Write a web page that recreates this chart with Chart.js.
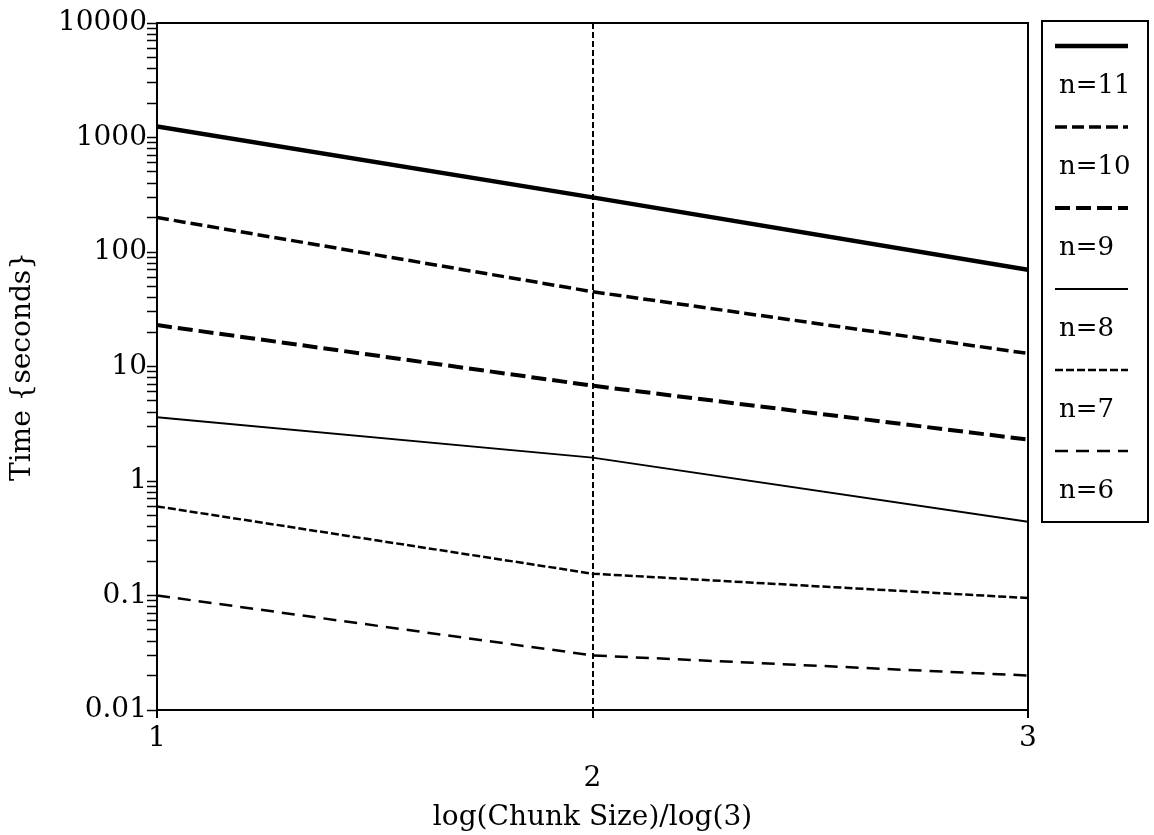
<!DOCTYPE html>
<html>
<head>
<meta charset="utf-8">
<title>Time vs chunk size</title>
<script src="https://cdn.jsdelivr.net/npm/chart.js@4/dist/chart.umd.min.js"></script>
<style>
    html, body { margin: 0; padding: 0; background: #fff; }
    canvas { display: block; }
</style>
</head>
<body>
<canvas id="chart" width="1154" height="835"></canvas>
<script>
// x positions: log(Chunk Size)/log(3)
const chunkLog = [1, 2, 3];

// Time (seconds) per problem size
const n11 = [1250, 300, 70];
const n10 = [200, 45, 13];
const n9 = [23, 6.8, 2.3];
const n8 = [3.6, 1.6, 0.44];
const n7 = [0.6, 0.155, 0.095];
const n6 = [0.1, 0.03, 0.02];

const seriesNames = ['n=11', 'n=10', 'n=9', 'n=8', 'n=7', 'n=6'];

// y axis decades and their labels
const yMajor = [0.01, 0.1, 1, 10, 100, 1000, 10000];
const yTickLabels = ['0.01', '0.1', '1', '10', '100', '1000', '10000'];

const FONT = 'DejaVu Serif';

const toPoints = ys => chunkLog.map((x, i) => ({ x: x, y: ys[i] }));

const styles = [
    { borderWidth: 4.5, borderDash: [] },
    { borderWidth: 3.5, borderDash: [12, 5] },
    { borderWidth: 4, borderDash: [15, 6] },
    { borderWidth: 2, borderDash: [] },
    { borderWidth: 2.5, borderDash: [8, 3] },
    { borderWidth: 2.5, borderDash: [13, 8] }
];

const datasets = [n11, n10, n9, n8, n7, n6].map((ys, i) => ({
    label: seriesNames[i],
    data: toPoints(ys),
    borderColor: '#000',
    borderWidth: styles[i].borderWidth,
    borderDash: styles[i].borderDash,
    pointRadius: 0,
    fill: false,
    tension: 0
}));

// top and right edges of the frame
const framePlugin = {
    id: 'frame',
    afterDatasetsDraw(chart) {
        const { ctx, chartArea: a } = chart;
        ctx.save();
        ctx.strokeStyle = '#000';
        ctx.lineWidth = 2;
        ctx.beginPath();
        ctx.moveTo(a.left, a.top);
        ctx.lineTo(a.right, a.top);
        ctx.lineTo(a.right, a.bottom);
        ctx.stroke();
        ctx.restore();
    }
};

// legend box to the right: line sample above each label
const legendPlugin = {
    id: 'sideLegend',
    afterDraw(chart) {
        const { ctx, chartArea: a } = chart;
        const left = a.right + 14;
        const top = a.top - 2;
        const width = 106;
        const step = 81;
        ctx.save();
        ctx.strokeStyle = '#000';
        ctx.lineWidth = 2;
        ctx.strokeRect(left, top, width, 501);
        ctx.fillStyle = '#000';
        ctx.font = '26px "' + FONT + '"';
        ctx.textBaseline = 'middle';
        ctx.textAlign = 'left';
        chart.data.datasets.forEach((ds, i) => {
            const y = top + 25 + i * step;
            ctx.save();
            ctx.lineWidth = ds.borderWidth;
            ctx.setLineDash(ds.borderDash);
            ctx.beginPath();
            ctx.moveTo(left + 13, y);
            ctx.lineTo(left + 86, y);
            ctx.stroke();
            ctx.restore();
            ctx.fillText(ds.label, left + 17, y + 40);
        });
        ctx.restore();
    }
};

new Chart(document.getElementById('chart'), {
    type: 'line',
    data: { datasets: datasets },
    options: {
        responsive: false,
        animation: false,
        devicePixelRatio: 1,
        layout: { padding: { top: 23, right: 126, left: 0, bottom: 0 } },
        plugins: { legend: { display: false }, tooltip: { enabled: false } },
        scales: {
            x: {
                type: 'linear',
                min: 1,
                max: 3,
                afterFit: s => { s.height = 125; },
                ticks: {
                    stepSize: 1,
                    padding: 0,
                    color: '#000',
                    font: { family: FONT, size: 28, lineHeight: 1.45 },
                    callback: v => (v === 2 ? ['', '2'] : String(v))
                },
                grid: {
                    color: c => (c.tick && c.tick.value === 2 ? '#000' : 'rgba(0,0,0,0)'),
                    lineWidth: 2,
                    tickColor: '#000',
                    tickWidth: 2,
                    tickLength: 8
                },
                border: { display: true, color: '#000', width: 2, dash: [6, 3] },
                title: {
                    display: true,
                    text: 'log(Chunk Size)/log(3)',
                    color: '#000',
                    font: { family: FONT, size: 28 },
                    padding: { top: 0, bottom: 0 }
                }
            },
            y: {
                type: 'logarithmic',
                min: 0.01,
                max: 10000,
                afterFit: s => { s.width = 157; },
                afterBuildTicks: s => {
                    const ticks = [];
                    yMajor.forEach((m, i) => {
                        ticks.push({ value: m, major: true });
                        if (i < yMajor.length - 1) {
                            for (let k = 2; k <= 9; k++) ticks.push({ value: m * k });
                        }
                    });
                    s.ticks = ticks;
                },
                ticks: {
                    autoSkip: false,
                    padding: 0,
                    color: '#000',
                    font: { family: FONT, size: 28 },
                    callback: v => {
                        const i = yMajor.findIndex(m => Math.abs(m - v) / m < 1e-6);
                        return i >= 0 ? yTickLabels[i] : '';
                    }
                },
                grid: {
                    drawOnChartArea: false,
                    color: '#000',
                    tickColor: '#000',
                    tickWidth: 1.5,
                    tickLength: 10
                },
                border: { display: true, color: '#000', width: 2 },
                title: {
                    display: true,
                    text: 'Time {seconds}',
                    color: '#000',
                    font: { family: FONT, size: 28 },
                    padding: { top: 6, bottom: 0 }
                }
            }
        }
    },
    plugins: [framePlugin, legendPlugin]
});
</script>
</body>
</html>
